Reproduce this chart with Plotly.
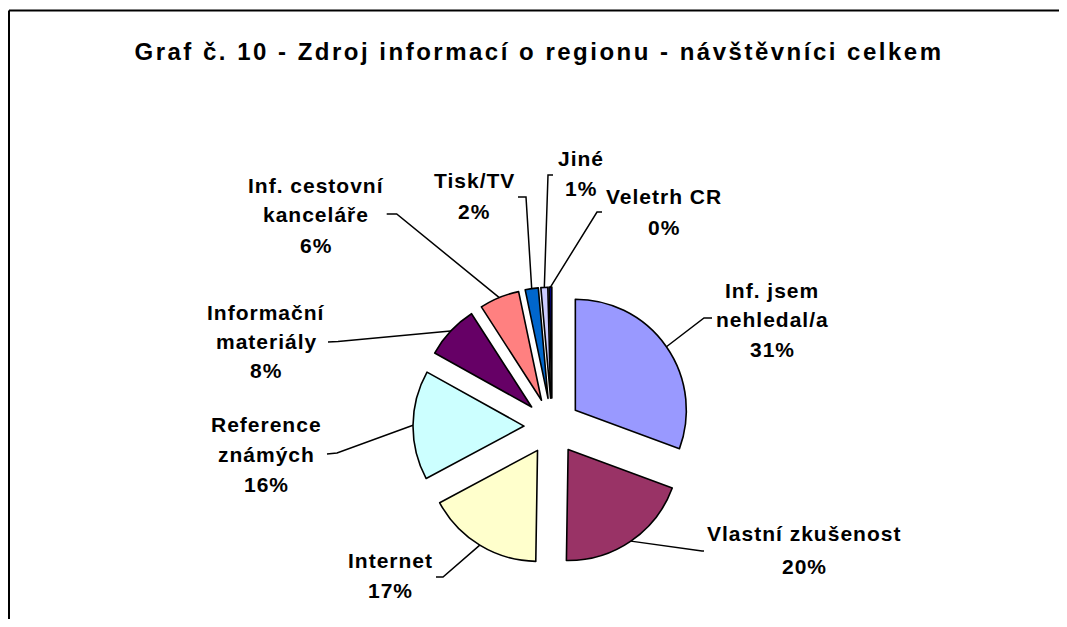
import math
import plotly.graph_objects as go

# ---------------- data ----------------
categories = ["Inf. jsem nehledal/a", "Vlastní zkušenost", "Internet",
              "Reference známých", "Informační materiály",
              "Inf. cestovní kanceláře", "Tisk/TV", "Jiné", "Veletrh CR"]
name_lines = [["Inf. jsem", "nehledal/a"], ["Vlastní zkušenost"], ["Internet"],
              ["Reference", "známých"], ["Informační", "materiály"],
              ["Inf. cestovní", "kanceláře"], ["Tisk/TV"], ["Jiné"], ["Veletrh CR"]]
values = [30.6, 19.6, 16.9, 15.9, 7.8, 5.8, 1.9, 1.0, 0.4]
colors = ["#9999FF", "#993366", "#FFFFCC", "#CCFFFF", "#660066",
          "#FF8080", "#0066CC", "#CCCCFF", "#000080"]
title = "Graf č. 10 - Zdroj informací o regionu - návštěvníci celkem"

# ---------------- layout (page pixels) ----------------
W, H = 1067, 627
OFF = 8                    # default page body margin
FW, FH = W - 2 * OFF, H - 2 * OFF
CX, CY = 552.2, 426.3      # pie centre
R = 111.0                  # pie radius
PULL = 0.254
FONT = "Liberation Sans, Arial, sans-serif"
LBL_SIZE = 21
LBL_LS = 1.0

# label centre x, first-line y, line gap, elbow point, stub end
label_cx = [772, 804, 390, 266, 266, 316, 474, 581, 664]
label_y0 = [290, 533, 560, 425, 312, 185, 180, 158, 196]
line_gap = [29.5, 33, 30, 29.5, 29, 30, 31, 30, 31]
elbows = [(704, 318), (702, 551), (443, 577), (337, 453), (338, 341.5),
          (396.7, 214), (526, 197), (548, 175), (597, 212)]
stubs = [(712, 318), (704, 551), (436, 577), (327, 454), (328, 342),
         (386.7, 214), (518, 197), (553, 175), (602, 212)]


def px(x):
    return (x - OFF) / FW


def py(y):
    return 1 - (y - OFF) / FH


half = R * (1 + PULL)
domain = dict(x=[px(CX - half), px(CX + half)], y=[py(CY + half), py(CY - half)])

fig = go.Figure()
fig.add_trace(go.Pie(
    labels=categories, values=values, sort=False, direction="clockwise",
    rotation=0, pull=[PULL] * len(values), textinfo="none",
    hoverinfo="label+percent",
    marker=dict(colors=colors, line=dict(color="black", width=1.6)),
    domain=domain, showlegend=False,
))

total = sum(values)
shapes = []
annotations = []
cum = 0.0
for i, v in enumerate(values):
    mid = (cum + v / 2) / total * 2 * math.pi
    cum += v
    dx, dy = math.sin(mid), -math.cos(mid)
    ax = CX + R * (1 + PULL) * dx
    ay = CY + R * (1 + PULL) * dy
    ex, ey = elbows[i]
    sx, sy = stubs[i]
    path = f"M {px(ax)},{py(ay)} L {px(ex)},{py(ey)} L {px(sx)},{py(sy)}"
    shapes.append(dict(type="path", xref="paper", yref="paper", path=path,
                       line=dict(color="black", width=1.5)))
    lines = name_lines[i] + [f"{round(v / total * 100)}%"]
    for k, t in enumerate(lines):
        y = label_y0[i] + k * line_gap[i]
        annotations.append(dict(
            x=px(label_cx[i]), y=py(y), xref="paper", yref="paper",
            xanchor="center", yanchor="middle", showarrow=False,
            text=f'<b><span style="letter-spacing:{LBL_LS}px">{t}</span></b>',
            font=dict(family=FONT, size=LBL_SIZE, color="black")))

# chart frame: top and left edges (the rest lies outside the window)
shapes.append(dict(type="line", xref="paper", yref="paper",
                   x0=px(OFF + 1), x1=px(W + 200), y0=py(10.5), y1=py(10.5),
                   line=dict(color="black", width=2)))
shapes.append(dict(type="line", xref="paper", yref="paper",
                   x0=px(OFF + 1), x1=px(OFF + 1), y0=py(10.5), y1=py(H + 200),
                   line=dict(color="black", width=2)))

fig.update_layout(
    width=FW, height=FH, margin=dict(l=0, r=0, t=0, b=0),
    paper_bgcolor="white", plot_bgcolor="white",
    title=dict(text=f'<b><span style="letter-spacing:2.5px">{title}</span></b>',
               x=px(539), y=py(52), xanchor="center", yanchor="middle",
               xref="paper", yref="paper",
               font=dict(family=FONT, size=24, color="black")),
    shapes=shapes, annotations=annotations,
)

fig.write_html("out.html")
